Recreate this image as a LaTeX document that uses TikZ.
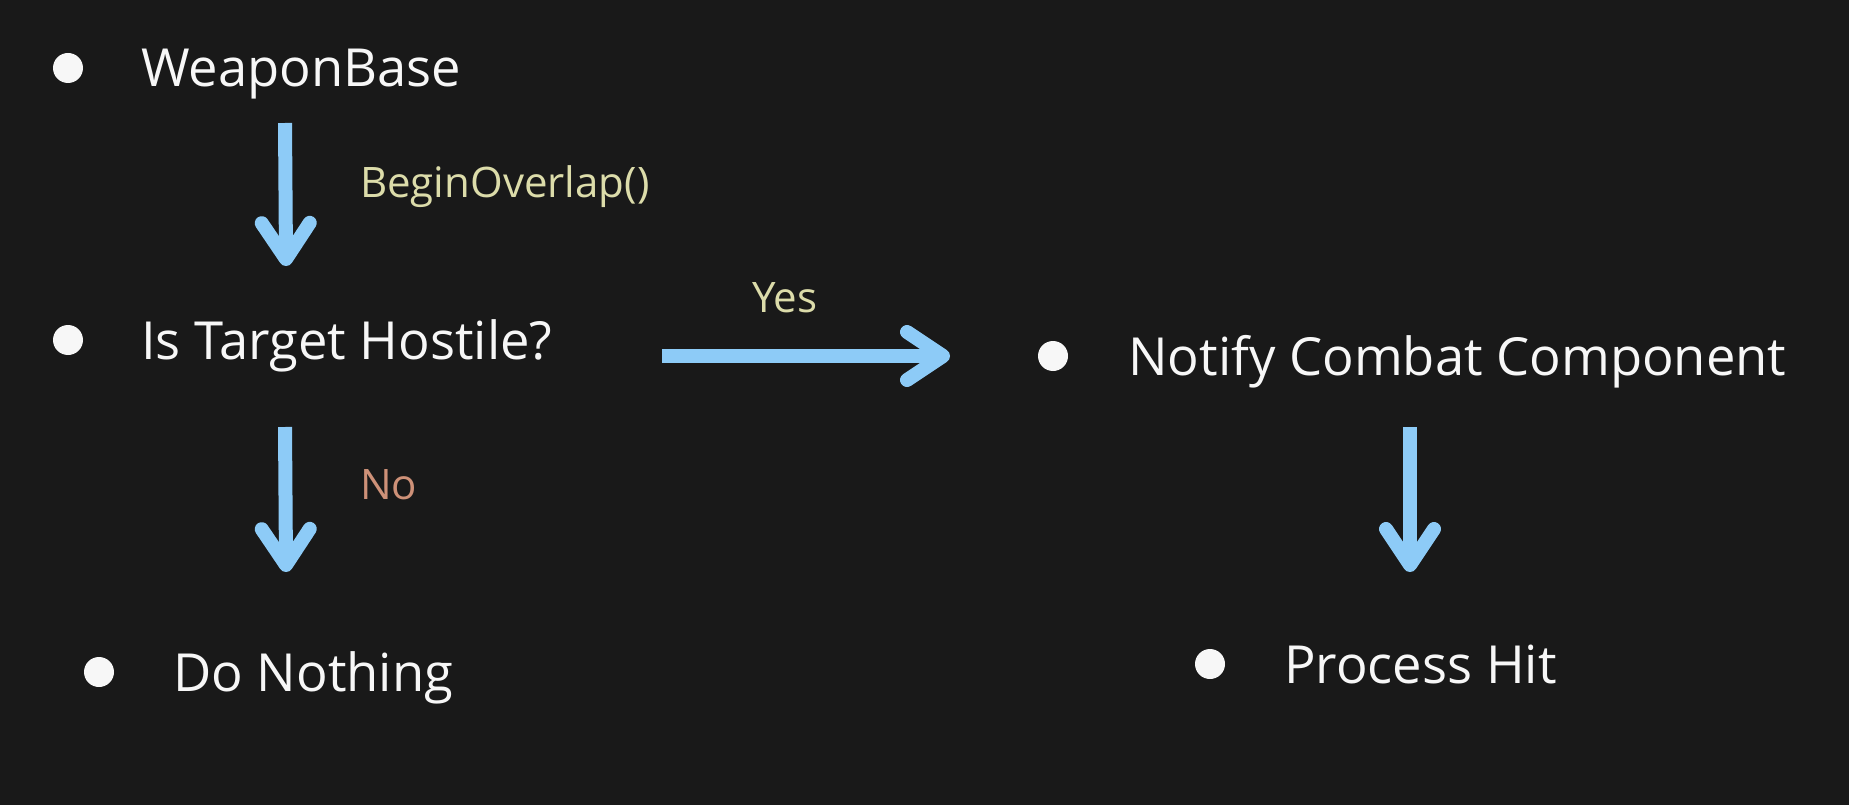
\documentclass[tikz,border=0pt]{standalone}
\usepackage{fontspec}
\setmainfont{Open Sans}
\usetikzlibrary{calc}
\definecolor{bg}{HTML}{191919}
\definecolor{arrowblue}{HTML}{8DCBF7}
\definecolor{labelyellow}{HTML}{DCDCAA}
\definecolor{labelorange}{HTML}{CE9178}
\definecolor{textwhite}{HTML}{F7F7F7}
\newcommand\flowarrow[2]{%
  \draw[flow] (#1) -- (#2);
  \draw[flow, line cap=round, line join=round] ($(#2)!36pt!(#1)!24pt!90:(#1)$) -- (#2) -- ($(#2)!36pt!(#1)!24pt!-90:(#1)$);
}
\begin{document}
\begin{tikzpicture}[x=1pt,y=-1pt,
  item/.style={anchor=base west, inner sep=0pt, text=textwhite, font=\fontsize{52.5}{60}\selectfont},
  lbl/.style={anchor=base west, inner sep=0pt, font=\fontsize{42}{50}\selectfont},
  dot/.style={circle, fill=textwhite, minimum size=30pt, inner sep=0pt},
  flow/.style={draw=arrowblue, line width=14pt}]
\fill[bg] (0,0) rectangle (1849,805);
\useasboundingbox (0,0) rectangle (1849,805);

\node[dot] (d1) at (68,68) {};
\node[item] (t1) at (141,87) {WeaponBase};
\node[dot] (d2) at (68,340) {};
\node[item] (t2) at (141,359) {Is Target Hostile?};
\node[dot] (d3) at (1053,356) {};
\node[item] (t3) at (1128,375) {Notify Combat Component};
\node[dot] (d4) at (99,672) {};
\node[item] (t4) at (173,691) {Do Nothing};
\node[dot] (d5) at (1210,664) {};
\node[item] (t5) at (1284,683) {Process Hit};

\node[lbl, text=labelyellow] (l1) at (360,198) {BeginOverlap()};
\node[lbl, text=labelyellow] (l2) at (752,312) {Yes};
\node[lbl, text=labelorange] (l3) at (360,499) {No};

\coordinate (a1s) at (285,123);
\coordinate (a1e) at (286,259);
\coordinate (a2s) at (662,356);
\coordinate (a2e) at (943,356);
\coordinate (a3s) at (285,427);
\coordinate (a3e) at (286,565);
\coordinate (a4s) at (1410,427);
\coordinate (a4e) at (1410,565);

\flowarrow{a1s}{a1e}
\flowarrow{a2s}{a2e}
\flowarrow{a3s}{a3e}
\flowarrow{a4s}{a4e}
\end{tikzpicture}
\end{document}
